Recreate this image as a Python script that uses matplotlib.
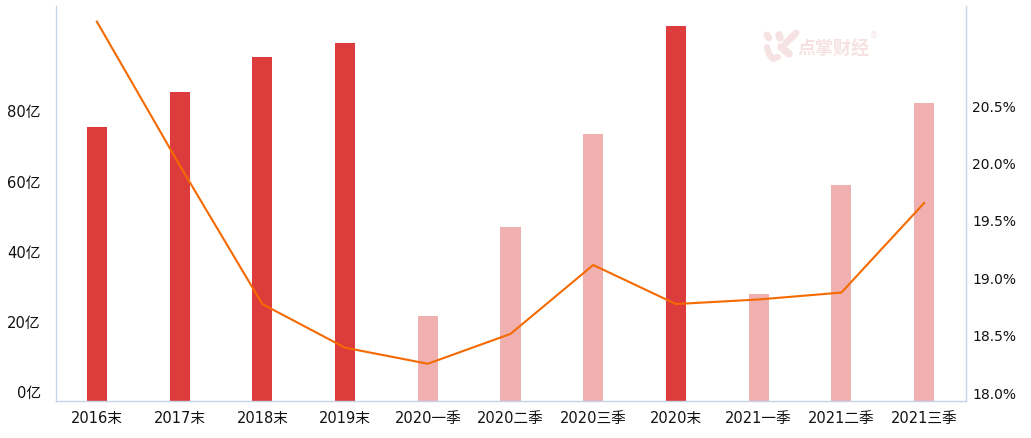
import matplotlib
matplotlib.use("Agg")
import matplotlib.pyplot as plt
from matplotlib.transforms import ScaledTranslation

# values
categories = ["2016末", "2017末", "2018末", "2019末", "2020一季", "2020二季",
              "2020三季", "2020末", "2021一季", "2021二季", "2021三季"]
bar_values = [77.9, 87.9, 97.9, 101.9, 24.1, 49.4, 75.9, 106.7, 30.3, 61.4, 84.8]
line_values = [21.30, 20.05, 18.84, 18.46, 18.32, 18.58, 19.18, 18.84, 18.88, 18.94, 19.72]
left_ticks = [0, 20, 40, 60, 80]
right_ticks = [18.0, 18.5, 19.0, 19.5, 20.0, 20.5]

W, H = 1031, 438
DARK_RED = "#dc3c3c"
LIGHT_RED = "#f0b0b0"
ORANGE = "#f56a00"
AXIS_COLOR = "#c6d3e8"
MARK_COLOR = "#f6e2e2"

plt.rcParams["font.family"] = ["DejaVu Sans", "Noto Sans CJK SC"]

fig = plt.figure(figsize=(W / 100, H / 100), dpi=100, facecolor="white")
ax = fig.add_axes([55.5 / W, 1 - 400.5 / H, 910 / W, 394.5 / H])
ax2 = ax.twinx()

xs = list(range(len(categories)))
colors = [DARK_RED if c.endswith("末") else LIGHT_RED for c in categories]
ax.bar(xs, bar_values, width=20 / 82.7, color=colors)
ax2.plot(xs, line_values, color=ORANGE, linewidth=1.5)

ax.set_xlim(-0.5, len(categories) - 0.5)
ax.set_ylim(0, 112.4)
ax2.set_ylim(18, 21.436)

ax.set_xticks(xs, categories)
ax.set_yticks(left_ticks, [f"{v}亿" for v in left_ticks])
ax2.set_yticks(right_ticks, [f"{v:.1f}%" for v in right_ticks])
ax.tick_params(axis="x", length=0, labelsize=10.5, labelcolor="#111111", pad=7.5)
ax.tick_params(axis="y", length=0, labelsize=10.6, labelcolor="#111111", pad=10.5)
ax2.tick_params(axis="y", length=0, labelsize=10, labelcolor="#111111", pad=5)

# y labels sit a little above their gridline position in the original
for a, pts in ((ax, 6), (ax2, 5.3)):
    lift = ScaledTranslation(0, pts / 72, fig.dpi_scale_trans)
    for lab in a.get_yticklabels():
        lab.set_transform(lab.get_transform() + lift)

# the twin axes would draw every spine a second time
for s in ax2.spines.values():
    s.set_visible(False)
ax.spines["top"].set_visible(False)
for s in ("left", "bottom", "right"):
    ax.spines[s].set_color(AXIS_COLOR)
    ax.spines[s].set_linewidth(1.0)

# watermark, in pixel coordinates
wm = fig.add_axes([0, 0, 1, 1], zorder=5)
wm.set_xlim(0, W)
wm.set_ylim(H, 0)
wm.axis("off")
for (x0, y0, x1, y1, lw) in [(767, 35, 769, 38, 5), (779, 35, 780, 38, 5.5),
                             (786, 43, 796, 33, 5), (781, 47, 789, 54, 5.5)]:
    wm.plot([x0, x1], [y0, y1], color=MARK_COLOR, linewidth=lw, solid_capstyle="round")
wm.plot([767, 769, 773, 778], [47, 54, 59, 57], color=MARK_COLOR, linewidth=4.5,
        solid_capstyle="round")
wm.text(797, 49, "点掌财经", fontsize=13, fontweight="bold", color=MARK_COLOR,
        family="Noto Sans CJK SC", va="center", ha="left")
wm.text(874, 36, "®", fontsize=6, color=MARK_COLOR, va="center", ha="center")

fig.savefig("out.png", dpi=100, facecolor="white")
